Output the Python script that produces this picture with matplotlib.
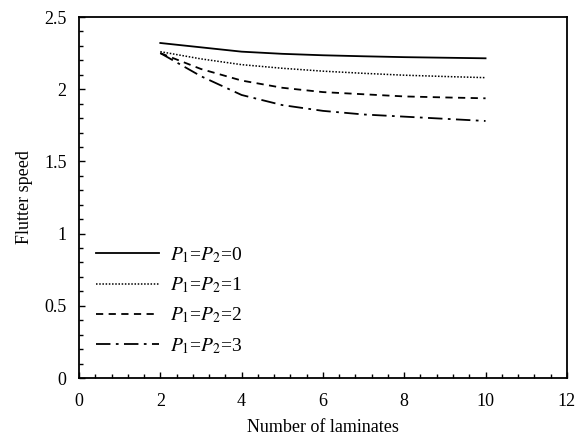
import matplotlib
matplotlib.use('Agg')
import matplotlib.pyplot as plt
from matplotlib.ticker import MultipleLocator

plt.rcParams['font.family'] = ['Liberation Serif', 'DejaVu Serif']
plt.rcParams['mathtext.fontset'] = 'stix'

laminates = [2, 3, 4, 5, 6, 7, 8, 9, 10]
speed_p0 = [2.32, 2.29, 2.26, 2.245, 2.235, 2.228, 2.222, 2.218, 2.214]
speed_p1 = [2.26, 2.21, 2.17, 2.145, 2.125, 2.11, 2.097, 2.088, 2.08]
speed_p2 = [2.25, 2.14, 2.06, 2.01, 1.98, 1.965, 1.95, 1.943, 1.937]
speed_p3 = [2.25, 2.09, 1.96, 1.89, 1.85, 1.825, 1.81, 1.795, 1.78]
labels = ['$P_1$=$P_2$=0', '$P_1$=$P_2$=1', '$P_1$=$P_2$=2', '$P_1$=$P_2$=3']

fig = plt.figure(figsize=(5.85, 4.36), dpi=100)
ax = fig.add_axes([0.135, 0.133, 0.834, 0.828])

ax.plot(laminates, speed_p0, color='black', lw=1.3, ls='-', label=labels[0])
ax.plot(laminates, speed_p1, color='black', lw=1.1, ls=(0, (1, 1.1)), label=labels[1])
ax.plot(laminates, speed_p2, color='black', lw=1.3, ls=(0, (4, 3)), label=labels[2])
ax.plot(laminates, speed_p3, color='black', lw=1.3, ls=(0, (8, 3, 1.5, 3)), label=labels[3])

ax.set_xlim(0, 12)
ax.set_ylim(0, 2.5)
ax.xaxis.set_major_locator(MultipleLocator(2))
ax.xaxis.set_minor_locator(MultipleLocator(0.4))
ax.yaxis.set_major_locator(MultipleLocator(0.5))
ax.yaxis.set_minor_locator(MultipleLocator(0.1))
ax.set_xticks([0, 2, 4, 6, 8, 10, 12], ['0', '2', '4', '6', '8', '10', '12'])
ax.set_yticks([0, 0.5, 1, 1.5, 2, 2.5], ['0', '0.5', '1', '1.5', '2', '2.5'])
ax.tick_params(which='both', direction='in', labelsize=13, width=1)
ax.tick_params(axis='x', which='major', length=4, pad=11)
ax.tick_params(axis='y', which='major', length=4, pad=9)
ax.tick_params(which='minor', length=3)
for s in ax.spines.values():
    s.set_linewidth(1.3)

ax.set_xlabel('Number of laminates', fontsize=13, labelpad=6)
ax.set_ylabel('Flutter speed', fontsize=13, labelpad=8)

ax.legend(loc='lower left', bbox_to_anchor=(0.0, 0.013), frameon=False,
          fontsize=14, handlelength=3.2, handletextpad=0.6, labelspacing=0.55)

fig.savefig('out.png', dpi=100)
